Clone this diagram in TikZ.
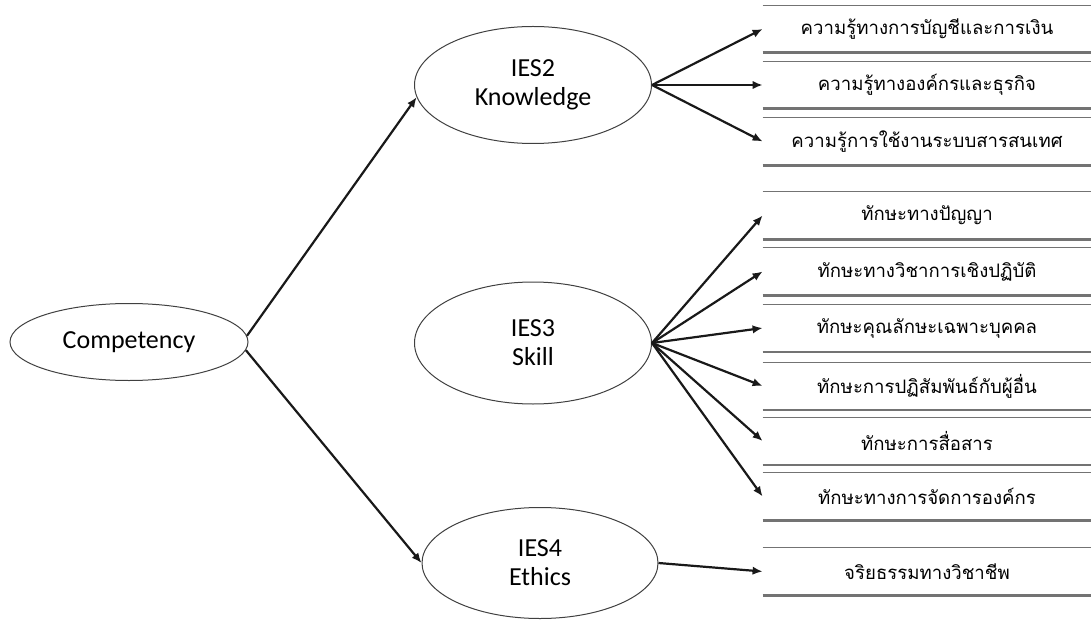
\documentclass[tikz,border=0pt]{standalone}
\usepackage{fontspec}
\setmainfont{Carlito}
\newfontfamily\thaifont[Script=Thai]{Loma}
\usepackage{tikz}
\usetikzlibrary{arrows.meta}
\usetikzlibrary{shapes.geometric}

\tikzset{
  oval/.style={ellipse,draw=black!75,line width=0.5pt,inner sep=0pt,align=center,
    font=\fontsize{13}{14.5}\selectfont},
  itembox/.style={minimum width=164pt,minimum height=23.5pt,inner sep=0pt,
    font=\thaifont\fontsize{9.3}{12}\selectfont},
  link/.style={-{Latex[length=5pt,width=4.2pt]},line width=1.1pt,black!90},
  toprule/.style={black!55,line width=0.5pt},
  botrule/.style={black!55,line width=1.4pt}
}

\begin{document}
\begin{tikzpicture}[x=0.5pt,y=-0.5pt]
\useasboundingbox (0,0) rectangle (1091,620);

\node[oval,minimum width=119pt,minimum height=38.5pt] (comp) at (129,342) {Competency};
\node[oval,minimum width=118.5pt,minimum height=58.5pt] (ies2) at (533,85) {IES2\\Knowledge};
\node[oval,minimum width=118.5pt,minimum height=61pt] (ies3) at (533,343) {IES3\\Skill};
\node[oval,minimum width=118pt,minimum height=55.5pt] (ies4) at (540,563) {IES4\\Ethics};

%knowledge
\node[itembox] (b1) at (927,29) {ความรู้ทางการบัญชีและการเงิน};
\node[itembox] (b2) at (927,85) {ความรู้ทางองค์กรและธุรกิจ};
\node[itembox] (b3) at (927,141.5) {ความรู้การใช้งานระบบสารสนเทศ};
%skill
\node[itembox] (b4) at (927,215.5) {ทักษะทางปัญญา};
\node[itembox] (b5) at (927,271.5) {ทักษะทางวิชาการเชิงปฏิบัติ};
\node[itembox] (b6) at (927,328) {ทักษะคุณลักษะเฉพาะบุคคล};
\node[itembox] (b7) at (927,386) {ทักษะการปฏิสัมพันธ์กับผู้อื่น};
\node[itembox] (b8) at (927,441) {ทักษะการสื่อสาร};
\node[itembox] (b9) at (927,496.5) {ทักษะทางการจัดการองค์กร};
%ethics
\node[itembox] (b10) at (927,571.5) {จริยธรรมทางวิชาชีพ};

\foreach \i in {1,...,10} {
  \draw[toprule] (b\i.north west) -- (b\i.north east);
  \draw[botrule] (b\i.south west) -- (b\i.south east);
}

\draw[link] (comp.3) -- (ies2.186);
\draw[link] (comp.-4) -- (ies4.west);

\draw[link] (ies2.east) -- (b1.west);
\draw[link] (ies2.east) -- (b2.west);
\draw[link] (ies2.east) -- (b3.west);

\foreach \i in {4,...,9}
  \draw[link] (ies3.east) -- (b\i.west);

\draw[link] (ies4.east) -- (b10.west);
\end{tikzpicture}
\end{document}
